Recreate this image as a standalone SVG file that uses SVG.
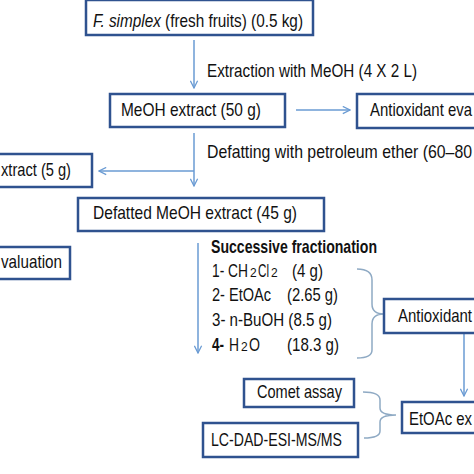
<svg xmlns="http://www.w3.org/2000/svg" width="474" height="474" viewBox="0 0 474 474">
<defs>
<style>
.box{fill:#fff;stroke:#2F528F;stroke-width:2.5}
.t{font-family:"Liberation Sans",Arial,sans-serif;font-size:18.5px;fill:#111}
.s{font-family:"Liberation Sans",Arial,sans-serif;font-size:12px;fill:#111}
.b{font-weight:bold}
.ar{fill:none;stroke:#6A9BD3;stroke-width:1.5}
.br{fill:none;stroke:#8FAAC4;stroke-width:1.5}
</style>
<marker id="ah" viewBox="0 0 10 10" refX="9" refY="5" markerWidth="9" markerHeight="9" markerUnits="userSpaceOnUse" orient="auto">
<path d="M1,1 L9,5 L1,9" fill="none" stroke="#6A9BD3" stroke-width="1.4"/>
</marker>
</defs>
<rect width="474" height="474" fill="#fff"/>
<g id="connectors">
<line class="ar" x1="194" y1="40" x2="194" y2="88" marker-end="url(#ah)"/>
<line class="ar" x1="296" y1="110" x2="350" y2="110" marker-end="url(#ah)"/>
<line class="ar" x1="194" y1="133" x2="194" y2="186" marker-end="url(#ah)"/>
<line class="ar" x1="194" y1="171" x2="99" y2="171" marker-end="url(#ah)"/>
<line class="ar" x1="198" y1="243" x2="198" y2="353" marker-end="url(#ah)"/>
<line class="ar" x1="464" y1="334" x2="464" y2="396" marker-end="url(#ah)"/>
<path class="br" d="M357,269 Q372,269 372,280 L372,304 Q372,314 384,314 Q372,314 372,324 L372,350 Q372,358 357,358"/>
<path class="br" d="M363,392 Q380,392 380,400 L380,408 Q380,415 396,415 Q380,415 380,422 L380,431 Q380,438 364,438"/>
</g>
<g id="n1"><rect class="box" x="86" y="0" width="227" height="35"/>
<text class="t" x="93" y="27" textLength="210" lengthAdjust="spacingAndGlyphs"><tspan font-style="italic">F. simplex</tspan> (fresh fruits) (0.5 kg)</text></g>
<g id="l1"><text class="t" x="207" y="77" textLength="210" lengthAdjust="spacingAndGlyphs">Extraction with MeOH (4 X 2 L)</text></g>
<g id="n2"><rect class="box" x="110" y="94" width="175" height="33"/>
<text class="t" x="121" y="116" textLength="140" lengthAdjust="spacingAndGlyphs">MeOH extract (50 g)</text></g>
<g id="n3"><rect class="box" x="357" y="94" width="130" height="34"/>
<text class="t" x="370" y="116" textLength="102" lengthAdjust="spacingAndGlyphs">Antioxidant eva</text></g>
<g id="l2"><text class="t" x="207" y="158" textLength="265" lengthAdjust="spacingAndGlyphs">Defatting with petroleum ether (60–80</text></g>
<g id="n4"><rect class="box" x="-10" y="154" width="102" height="33"/>
<text class="t" x="1" y="176" textLength="70" lengthAdjust="spacingAndGlyphs">xtract (5 g)</text></g>
<g id="n5"><rect class="box" x="78" y="198" width="246" height="33"/>
<text class="t" x="93" y="219" textLength="204" lengthAdjust="spacingAndGlyphs">Defatted MeOH extract (45 g)</text></g>
<g id="n6"><rect class="box" x="-10" y="247" width="80" height="32"/>
<text class="t" x="1" y="268" textLength="61" lengthAdjust="spacingAndGlyphs">valuation</text></g>
<g id="l3">
<text class="t b" x="211" y="253" textLength="166" lengthAdjust="spacingAndGlyphs">Successive fractionation</text>
<text class="t" x="212" y="277" textLength="36" lengthAdjust="spacingAndGlyphs">1- CH</text>
<text class="s" x="250" y="277">2</text>
<text class="t" x="258" y="277" textLength="11" lengthAdjust="spacingAndGlyphs">Cl</text>
<text class="s" x="271" y="277">2</text>
<text class="t" x="292" y="277" textLength="31" lengthAdjust="spacingAndGlyphs">(4 g)</text>
<text class="t" x="212" y="301" textLength="59" lengthAdjust="spacingAndGlyphs">2- EtOAc</text>
<text class="t" x="287" y="301" textLength="51" lengthAdjust="spacingAndGlyphs">(2.65 g)</text>
<text class="t" x="212" y="326" textLength="120" lengthAdjust="spacingAndGlyphs">3- n-BuOH (8.5 g)</text>
<text class="t b" x="212" y="351" textLength="12" lengthAdjust="spacingAndGlyphs">4-</text>
<text class="t" x="229" y="351" textLength="10" lengthAdjust="spacingAndGlyphs">H</text>
<text class="s" x="241" y="351">2</text>
<text class="t" x="249" y="351" textLength="11" lengthAdjust="spacingAndGlyphs">O</text>
<text class="t" x="287" y="351" textLength="52" lengthAdjust="spacingAndGlyphs">(18.3 g)</text>
</g>
<g id="n7"><rect class="box" x="384" y="299" width="100" height="34"/>
<text class="t" x="398" y="322" textLength="74" lengthAdjust="spacingAndGlyphs">Antioxidant</text></g>
<g id="n8"><rect class="box" x="244" y="379" width="110" height="28"/>
<text class="t" x="257" y="398" textLength="85" lengthAdjust="spacingAndGlyphs">Comet assay</text></g>
<g id="n9"><rect class="box" x="203" y="423" width="155" height="34"/>
<text class="t" x="211" y="446" textLength="131" lengthAdjust="spacingAndGlyphs">LC-DAD-ESI-MS/MS</text></g>
<g id="n10"><rect class="box" x="402" y="402" width="90" height="31"/>
<text class="t" x="409" y="425" textLength="63" lengthAdjust="spacingAndGlyphs">EtOAc ex</text></g>
</svg>
